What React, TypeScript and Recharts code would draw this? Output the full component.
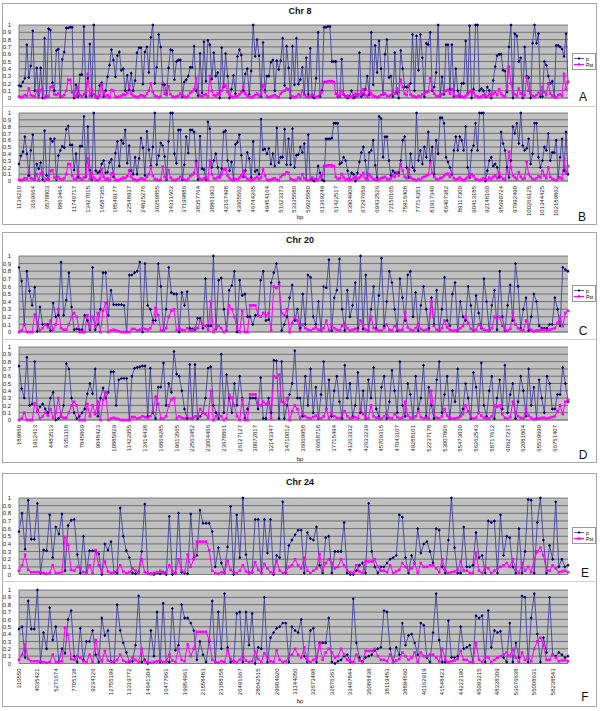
import React from "react";
import { CartesianGrid, Legend, Line, LineChart, XAxis, YAxis } from "recharts";

// all series values are in hundredths (0..100)
const chr8Labels = [
  "1136210", "3169664", "6570803", "8863464", "11740717", "13427015", "16587365", "18549177",
  "22548937", "24825276", "30250855", "34331602", "37199886", "38357764", "38861903", "42167498",
  "43605562", "46744265", "49454164", "51623373", "53335580", "56025580", "61369249", "61422517",
  "63904909", "67297659", "69432526", "72150165", "75916408", "77714351", "81917340", "86407382",
  "89117300", "90413185", "92148160", "95690724", "97992490", "100266125", "101344425", "102189862",
];
const chr8PA = [
  17, 16, 22, 27, 73, 28, 44, 92, 10, 41, 2, 41, 0, 82, 2, 95, 93, 21, 10, 65, 67, 2, 53, 63, 96, 96, 97, 97, 0, 18,
  2, 32, 32, 98, 2, 27, 74, 3, 100, 2, 0, 17, 21, 2, 10, 29, 45, 66, 52, 29, 58, 63, 38, 40, 10, 31, 11, 34, 10, 24,
  62, 69, 69, 19, 63, 70, 35, 83, 100, 20, 42, 87, 70, 19, 18, 5, 41, 66, 65, 25, 50, 52, 52, 2, 22, 25, 30, 42, 42, 71,
  10, 3, 61, 7, 77, 23, 79, 73, 26, 62, 30, 35, 0, 69, 15, 61, 30, 0, 12, 31, 6, 57, 66, 59, 10, 33, 40, 5, 37, 100,
  57, 80, 58, 2, 76, 10, 30, 30, 49, 52, 10, 51, 39, 51, 82, 17, 71, 41, 0, 71, 18, 82, 19, 25,
  42, 5, 55, 5, 68, 2, 0, 27, 90, 2, 10, 97, 97, 98, 98, 50, 50, 50, 2, 2, 53, 5, 2, 0, 2, 10, 0, 2, 3, 62, 2, 5,
  12, 30, 4, 90, 18, 72, 35, 78, 40, 5, 60, 80, 28, 30, 2, 62, 7, 0, 65, 40, 15, 15, 16, 20, 87, 10, 85, 38, 87, 55,
  2, 75, 73, 90, 10, 15, 35, 100, 3, 29, 5, 73, 73, 12, 73, 2, 40, 10, 2, 20, 20, 78, 6, 99, 0, 12, 100, 100, 10, 13,
  10, 2, 15, 10, 0, 24, 43, 58, 60, 60, 38, 37, 8, 70, 100, 0, 88, 85, 50, 55, 0, 70, 30, 28, 0, 75, 100,
  75, 88, 2, 2, 50, 45, 30, 20, 23, 2, 72, 72, 70, 67, 57, 88, 22,
];
const chr8PB = [
  25, 37, 43, 65, 40, 8, 45, 68, 2, 25, 18, 27, 2, 74, 8, 2, 62, 58, 62, 2, 37, 45, 51, 49, 76, 81, 53,
  53, 16, 40, 5, 51, 51, 95, 6, 80, 16, 2, 100, 15, 12, 14, 25, 30, 12, 13, 27, 32, 6, 41, 58, 22, 60, 55,
  75, 26, 52, 15, 10, 35, 10, 33, 63, 49, 8, 73, 46, 22, 50, 100, 24, 37, 56, 52, 36, 2, 58, 100, 100, 40, 26,
  75, 75, 2, 24, 65, 41, 75, 75, 72, 29, 2, 66, 18, 17, 2, 87, 77, 20, 30, 40, 20, 5, 18, 72, 74, 30, 15,
  28, 2, 54, 57, 68, 38, 6, 15, 42, 33, 5, 58, 14, 16, 10, 91, 46, 47, 40, 48, 25, 40, 22, 78, 27, 35,
  35, 76, 24, 62, 24, 77, 20, 38, 39, 50,
  42, 55, 2, 68, 2, 2, 0, 2, 22, 12, 2, 0, 62, 62, 62, 63, 85, 85, 85,
  25, 27, 35, 30, 15, 2, 12, 10, 0, 12, 28, 42, 50, 30, 2, 42, 45, 60, 23, 5, 95, 92,
  35, 65, 65, 30, 8, 15, 12, 12, 12, 30, 60, 65, 20, 5, 40, 20, 15, 100, 30, 45, 25, 50, 35, 72, 30, 50, 10, 60, 40,
  93, 93, 85, 35, 28, 20, 10, 45, 65, 45, 65, 60, 45, 80, 20, 5, 45, 52, 85, 45, 100, 100, 100,
  0, 15, 30, 35, 22, 25, 20, 5, 72, 55, 45, 20, 5, 30, 80, 70, 85, 55, 100, 52, 45, 48, 62, 25, 40, 85, 85,
  35, 20, 30, 50, 45, 70, 30, 42, 42, 60, 5, 35, 62, 15, 72, 10,
];
const chr8Pst = [
  2, 1, 2, 4, 3, 13, 4, 3, 2, 10, 1, 11, 12, 0, 3, 2, 15, 16, 5, 4,
  6, 3, 2, 4, 10, 25, 25, 8, 3, 2, 15, 4, 2, 5, 8, 33, 3, 12, 5, 2,
  1, 3, 18, 6, 2, 4, 1, 11, 10, 2, 1, 2, 3, 5, 4, 7, 16, 6, 3, 2,
  1, 2, 4, 3, 2, 6, 10, 20, 8, 3, 2, 1, 2, 21, 6, 4, 16, 5, 2, 1,
  2, 3, 6, 4, 2, 1, 3, 7, 9, 12, 27, 8, 3, 2, 4, 5, 2, 30, 10, 4,
  3, 6, 5, 10, 17, 17, 8, 4, 2, 1, 3, 2, 5, 8, 15, 6, 3, 2, 1, 2,
  4, 6, 3, 5, 17, 8, 2, 1, 2, 3, 4, 2, 1, 6, 9, 10, 13, 12, 3, 2,
  1, 2, 5, 3, 10, 4, 2, 1, 2, 5, 3, 1, 2, 6, 8, 22, 22, 23, 23, 23,
  22, 6, 3, 4, 10, 5, 2, 3, 1, 2, 4, 6, 3, 5, 8, 12, 4, 2, 10, 6,
  3, 2, 1, 2, 4, 5, 6, 3, 2, 4, 8, 6, 13, 8, 25, 15, 6, 4, 17, 5,
  3, 2, 1, 3, 2, 5, 6, 8, 9, 27, 12, 6, 3, 2, 4, 5, 8, 10, 11, 6,
  12, 4, 2, 3, 5, 2, 1, 3, 6, 8, 10, 7, 3, 2, 1, 2, 4, 3, 2, 5,
  3, 6, 8, 4, 12, 6, 3, 2, 16, 43, 20, 8, 5, 3, 13, 6, 3, 4, 28, 10,
  6, 3, 2, 4, 7, 5, 15, 8, 4, 20, 6, 3, 2, 1, 4, 5, 3, 33, 12, 22,
];

const chr20Labels = [
  "189860", "1912413", "4483513", "6353118", "7845869", "9048423", "10885929", "11422955", "13414438",
  "16864285", "19613565", "22563452", "23004466", "23678861", "26127127", "30072817", "32143347", "34710012",
  "36069958", "36658718", "37715494", "41263332", "42633239", "45709315", "47043107", "49288101", "52237178",
  "53007806", "55473030", "56262543", "58717612", "60627237", "62081804", "65539690", "66751407",
];
const chr20PC = [
  85, 67, 10, 80, 54, 35, 59, 1, 33, 10, 10, 10, 2, 38, 20, 22, 92, 22, 42, 78, 33, 3, 4, 3, 3, 22, 15, 3, 85, 3,
  10, 30, 78, 78, 22, 55, 36, 36, 36, 36, 35, 0, 75, 75, 78, 80, 92, 0, 90, 35, 30, 15, 15, 90, 60, 2, 30, 85, 52, 50,
  50, 0, 52, 35, 53, 5, 4, 3, 18, 18, 5, 70, 8, 8, 100, 4, 68, 71, 30, 2, 55, 61, 80, 0, 68, 48, 50, 20, 20, 10,
  22, 22, 68, 80, 15, 16, 65, 78, 90, 65, 2, 10, 20, 45, 62, 15, 30,
  5, 50, 10, 75, 72, 20, 10, 40, 2, 60, 58, 95, 2, 45, 55, 96, 30, 2, 55, 20, 35, 65, 5, 100, 4, 75, 2, 30, 60, 5,
  48, 97, 8, 40, 80, 65, 30, 2, 70, 45, 15, 75, 80, 20, 52, 2, 35, 60, 30, 5, 45, 10, 55, 2, 30, 72, 15, 8, 50, 65,
  2, 40, 20, 15, 60, 35, 2, 48, 25, 5, 70, 40, 2, 35, 55, 3, 80, 20, 2, 35, 62, 15, 90, 60, 5, 30, 45, 2, 20, 50,
  40, 8, 5, 5, 5, 10, 10, 45, 30, 8, 85, 82, 80,
];
const chr20PD = [
  74, 43, 30, 86, 20, 22, 80, 12, 18, 22, 15, 10, 30, 38, 0, 2, 5, 20,
  77, 70, 30, 10, 2, 5, 10, 15, 36, 50, 36, 70, 5, 30, 44, 30, 38, 66, 66, 20,
  55, 57, 57, 57, 0, 60, 71, 72, 73, 74, 74, 5, 71, 10, 2, 45, 45, 78, 20, 50, 38,
  94, 63, 60, 40, 15, 2, 76, 2, 76, 2, 5, 10, 30, 71, 73, 20, 10, 2,
  90, 10, 62, 30, 10, 50, 20, 60, 30, 2, 15, 30, 30, 30, 15, 58, 2, 2, 30, 10,
  82, 81, 2, 80, 2, 20, 35, 50, 95, 30,
  30, 5, 60, 20, 70, 10, 45, 2, 35, 80, 15, 55, 5, 40, 60, 25, 2, 75, 30, 50, 5, 20, 65, 10, 40, 2, 55, 30, 72, 15,
  5, 45, 60, 2, 25, 68, 40, 10, 80, 20, 5, 50, 35, 2, 60, 15, 30, 75, 5, 45, 20, 2, 55, 80, 10, 35, 60, 2, 40, 25,
  70, 5, 15, 50, 30, 2, 65, 45, 10, 78, 20, 5, 40, 60, 2, 30, 55, 15, 75, 10, 35, 50, 2, 25, 60, 40, 5, 70, 20, 45,
  2, 55, 30, 10, 60, 50, 15, 15, 35, 35, 72, 50, 25,
];
const chr20Pst = [
  0, 2, 10, 0, 0, 0, 23, 12, 2, 5, 10, 6, 15, 3, 10, 30, 5, 3, 3, 10, 20, 25, 20, 0, 0, 0,
  22, 5, 20, 8, 25, 0, 28, 38, 0, 2, 3, 2, 1, 0, 0, 0, 0, 4, 4, 2, 3, 5, 4, 3, 5, 12,
  32, 22, 2, 2, 5, 20, 28, 30, 2, 5, 3, 2, 5, 2, 2, 5, 5, 15, 10, 8, 3, 40,
  0, 5, 8, 5, 0, 2, 35, 30, 20, 5, 0, 28, 0, 0, 35, 35, 35, 22, 20, 25, 22, 25, 2,
  60, 58, 62, 25, 22, 30, 0, 12, 20, 15, 2, 10,
  5, 3, 2, 4, 6, 3, 2, 5, 15, 2, 10, 5, 3, 2, 8, 12, 5, 2, 3, 4, 2, 15, 8, 3, 2, 20, 5, 3,
  2, 2, 5, 10, 3, 2, 8, 4, 2, 3, 25, 6, 3, 2, 5, 12, 4, 2, 3, 2, 40, 8, 3, 2, 5, 15, 6, 3, 2, 2,
  3, 5, 8, 20, 12, 4, 2, 3, 10, 6, 3, 2, 2, 5, 20, 18, 20, 8, 3, 2, 4, 25, 10, 5, 3, 2, 15, 6, 3, 1,
  2, 2, 3, 3, 2, 3, 4, 5, 12, 20, 8, 25, 28,
];

const chr24Labels = [
  "310550", "4035421", "5271674", "7705138", "9234126", "12755199", "13319772", "14641304", "16477961", "19954961",
  "21858483", "23188158", "26491667", "28042515", "29904920", "31144050", "32673498", "32876361", "33497844", "35088438",
  "38119453", "38894560", "40162919", "41548423", "44222190", "45093215", "48338309", "53676638", "55008631", "58238543",
];
const chr24PE = [
  56, 80, 33, 97, 46, 46, 93, 2, 32, 31, 78, 22, 62, 53, 79, 5, 64, 71, 72, 26, 2, 50, 3, 31, 31, 31, 27, 0, 40, 32,
  43, 3, 2, 87, 50, 31, 22, 2, 1, 3, 30, 92, 2, 1, 0, 2, 1, 3, 0, 76, 0, 2, 80, 3, 2, 1, 79, 21, 25, 84,
  67, 67, 67, 56, 10, 35, 15, 2, 36, 89, 0, 78, 22, 100, 26, 2, 3, 72, 72, 2, 72, 28, 72, 0, 25, 22, 95, 2, 38, 45,
  52, 58, 58, 2, 55, 47, 45, 62, 12, 2, 48, 50, 2, 30, 30, 30, 68, 2, 0, 0, 5, 12, 15, 2, 93, 30, 10, 2, 10, 10,
  15, 20, 22, 25, 78, 75, 22, 2, 25, 15, 60, 28, 40, 43, 30, 15, 60, 58, 10, 2, 45, 100, 35, 2, 2, 62, 10, 10, 12, 55,
  22, 25, 2, 70, 68, 70, 2, 78, 25, 50, 48, 10, 2, 60, 2, 30, 98,
  97, 2, 68, 100, 45, 2, 38, 20, 95, 10, 20, 10, 12,
];
const chr24PF = [
  47, 50, 8, 85, 47, 47, 100, 2, 42, 20, 76, 32, 50, 2, 20, 14, 60, 72, 10, 2, 48, 5, 30, 30, 45, 12, 2, 62, 38, 45,
  3, 2, 80, 45, 28, 15, 2, 3, 25, 92, 2, 5, 0, 45, 10, 70, 2, 82, 3, 2, 75, 18, 25, 80, 62, 62, 55, 45, 5, 30,
  12, 2, 30, 85, 2, 70, 20, 95, 22, 2, 3, 68, 70, 2, 70, 25, 68, 0, 22, 20, 90, 2, 35, 42, 48, 50, 55, 55, 2, 50,
  45, 42, 60, 10, 2, 45, 48, 2, 28, 28, 28, 62, 2, 0, 3, 5, 10, 12, 2, 88, 28, 8, 2, 8, 10, 12, 18, 20, 22, 72,
  70, 20, 2, 22, 12, 55, 25, 38, 40, 28, 12, 55, 52, 8, 2, 42, 95, 32, 2, 2, 58, 8, 8, 10, 50, 20, 22, 25, 2, 65,
  62, 65, 2, 72, 22, 45, 42, 44, 8, 2, 55, 2, 28, 8, 92, 90, 2, 62, 95, 40, 2, 35, 15, 90, 12, 10, 15, 12, 8, 10,
];
const chr24Pst = [
  5, 12, 26, 6, 3, 3, 3, 3, 2, 1, 2, 12, 2, 2, 3, 49, 39, 6, 5, 10, 8, 3, 2, 12, 2, 32, 12, 3, 17, 4,
  2, 3, 5, 12, 4, 2, 3, 8, 5, 2, 20, 3, 2, 1, 2, 3, 5, 2, 3, 12, 4, 2, 20, 5, 3, 26, 10, 20, 43, 43,
  43, 43, 32, 5, 2, 1, 3, 2, 18, 6, 3, 2, 5, 12, 4, 2, 3, 16, 6, 2, 14, 8, 3, 2, 18, 5, 2, 3, 10, 12,
  20, 12, 8, 22, 5, 2, 5, 8, 27, 5, 15, 20, 15, 8, 10, 20, 12, 5, 3, 2, 12, 4, 2, 17, 17, 17, 20, 10, 5, 5,
  3, 12, 2, 4, 6, 15, 10, 5, 8, 15, 2, 15, 10, 10, 12, 12, 8, 3, 20, 5, 2, 3, 4, 6, 17, 5, 5, 2, 2, 28,
  5, 2, 10, 8, 2, 5, 8, 10, 12, 15, 10, 20, 8, 2, 15, 5, 10, 3, 20, 30, 35, 25, 5, 5, 12, 8, 3, 4, 5, 3,
];

const yTicks = [0, 0.1, 0.2, 0.3, 0.4, 0.5, 0.6, 0.7, 0.8, 0.9, 1];
const FONT = "'Liberation Sans', Arial, sans-serif";
const P_LINE = "#34349a";
const P_DOT = "#000066";
const PST = "#ff00ff";

function toRows(p: number[], pst: number[]) {
  return p.map((v, i) => ({ idx: i, p: v / 100, pst: (pst[i] ?? 0) / 100 }));
}

const diamond = (props: any) => {
  const { cx, cy, index } = props;
  if (cx == null || cy == null) return <g key={`d${index}`} />;
  return (
    <path
      key={`d${index}`}
      d={`M${cx},${cy - 1.7}L${cx + 1.5},${cy}L${cx},${cy + 1.7}L${cx - 1.5},${cy}Z`}
      fill={P_DOT}
    />
  );
};

const square = (props: any) => {
  const { cx, cy, index } = props;
  if (cx == null || cy == null) return <g key={`s${index}`} />;
  return <rect key={`s${index}`} x={cx - 1.3} y={cy - 1.3} width={2.6} height={2.6} fill={PST} />;
};

const rotTick = (labels: string[], step: number) => (props: any) => {
  const { x, y, payload } = props;
  const lab = labels[Math.round(payload.value / step)] ?? "";
  return (
    <text
      transform={`translate(${x},${y}) rotate(-90)`}
      textAnchor="end"
      dominantBaseline="central"
      fontSize={6}
      fontFamily={FONT}
      fill="#222"
    >
      {lab}
    </text>
  );
};

const legendBox = () => (
  <div style={{ width: 24, height: 17, border: "1px solid #999", background: "#fff", boxSizing: "border-box" }}>
    <svg width={22} height={15} style={{ display: "block" }}>
      <line x1={1} x2={11} y1={4.5} y2={4.5} stroke={P_LINE} strokeWidth={0.8} />
      <path d="M6,3L7.4,4.5L6,6L4.6,4.5Z" fill={P_DOT} />
      <text x={13} y={6.5} fontSize={5} fontFamily={FONT}>p</text>
      <line x1={1} x2={11} y1={10.5} y2={10.5} stroke={PST} strokeWidth={1} />
      <rect x={4.8} y={9.3} width={2.4} height={2.4} fill={PST} />
      <text x={13} y={12.5} fontSize={5} fontFamily={FONT}>Pst</text>
    </svg>
  </div>
);

function Panel({
  top,
  plotH,
  p,
  pst,
  labels,
  step,
  showLabels,
}: {
  top: number;
  plotH: number;
  p: number[];
  pst: number[];
  labels: string[];
  step: number;
  showLabels: boolean;
}) {
  const mTop = 5;
  const mBottom = showLabels ? 0 : 5;
  const xH = showLabels ? 40 : 1;
  const height = mTop + plotH + xH + mBottom;
  return (
    <div style={{ position: "absolute", left: 0, top: top - mTop }}>
      <LineChart
        width={600}
        height={height}
        data={toRows(p, pst)}
        margin={{ top: mTop, right: 32, bottom: mBottom, left: 0 }}
      >
        <CartesianGrid vertical={false} fill="#c0c0c0" stroke="#3a3a3a" strokeWidth={0.6} />
        <XAxis
          dataKey="idx"
          type="category"
          interval={step - 1}
          height={xH}
          tickLine={false}
          tickSize={0}
          tickMargin={5}
          axisLine={{ stroke: "#808080" }}
          tick={showLabels ? rotTick(labels, step) : false}
        />
        <YAxis
          width={19}
          domain={[0, 1]}
          ticks={yTicks}
          interval={0}
          tickLine={false}
          axisLine={{ stroke: "#808080" }}
          tickMargin={2}
          tick={{ fontSize: 6, fill: "#222", fontFamily: FONT }}
          tickFormatter={(v: number) => String(Math.round(v * 10) / 10)}
        />
        {!showLabels && (
          <Legend
            layout="horizontal"
            verticalAlign="middle"
            align="center"
            content={legendBox}
            wrapperStyle={{ left: 572, top: mTop + plotH / 2 - 9, width: 24 }}
          />
        )}
        <Line dataKey="p" name="p" type="linear" stroke={P_LINE} strokeWidth={0.8} dot={diamond} activeDot={false} isAnimationActive={false} />
        <Line dataKey="pst" name="Pst" type="linear" stroke={PST} strokeWidth={1} dot={square} activeDot={false} isAnimationActive={false} />
      </LineChart>
    </div>
  );
}

function Box({ top, bottom }: { top: number; bottom: number }) {
  return (
    <div
      style={{
        position: "absolute",
        left: 2,
        top,
        width: 595,
        height: bottom - top,
        border: "1px solid #a8a8a8",
        boxSizing: "border-box",
      }}
    />
  );
}

function Hline({ y }: { y: number }) {
  return <div style={{ position: "absolute", left: 2, top: y, width: 595, height: 1, background: "#d0d0d0" }} />;
}

function Txt({ x, y, size, bold, children }: { x: number; y: number; size: number; bold?: boolean; children: React.ReactNode }) {
  return (
    <div
      style={{
        position: "absolute",
        left: x - 40,
        top: y - size * 0.6,
        width: 80,
        textAlign: "center",
        fontSize: size,
        lineHeight: `${size * 1.2}px`,
        fontWeight: bold ? "bold" : "normal",
        fontFamily: FONT,
        color: "#111",
      }}
    >
      {children}
    </div>
  );
}

export default function App() {
  return (
    <div style={{ position: "absolute", left: 0, top: 0, width: 600, height: 711, background: "#fff", overflow: "hidden" }}>
      <Box top={3} bottom={225} />
      <Hline y={106} />
      <Box top={232} bottom={463} />
      <Hline y={339} />
      <Box top={473} bottom={707} />
      <Hline y={581} />

      <Txt x={300} y={11} size={9} bold>Chr 8</Txt>
      <Txt x={300} y={240} size={9} bold>Chr 20</Txt>
      <Txt x={300} y={482} size={9} bold>Chr 24</Txt>

      <Panel top={25} plotH={73} p={chr8PA} pst={chr8Pst} labels={chr8Labels} step={7} showLabels={false} />
      <Panel top={112.5} plotH={68} p={chr8PB} pst={chr8Pst} labels={chr8Labels} step={7} showLabels />
      <Panel top={255.5} plotH={76} p={chr20PC} pst={chr20Pst} labels={chr20Labels} step={6} showLabels={false} />
      <Panel top={347} plotH={73} p={chr20PD} pst={chr20Pst} labels={chr20Labels} step={6} showLabels />
      <Panel top={497.5} plotH={76.5} p={chr24PE} pst={chr24Pst} labels={chr24Labels} step={6} showLabels={false} />
      <Panel top={589.5} plotH={73.5} p={chr24PF} pst={chr24Pst} labels={chr24Labels} step={6} showLabels />

      <Txt x={300} y={218} size={6}>bp</Txt>
      <Txt x={300} y={460} size={6}>bp</Txt>
      <Txt x={300} y={702} size={6}>bp</Txt>

      <Txt x={583} y={97} size={12}>A</Txt>
      <Txt x={582} y={217} size={12}>B</Txt>
      <Txt x={583} y={331} size={12}>C</Txt>
      <Txt x={583} y={455} size={12}>D</Txt>
      <Txt x={585} y={573} size={12}>E</Txt>
      <Txt x={585} y={697} size={12}>F</Txt>
    </div>
  );
}
